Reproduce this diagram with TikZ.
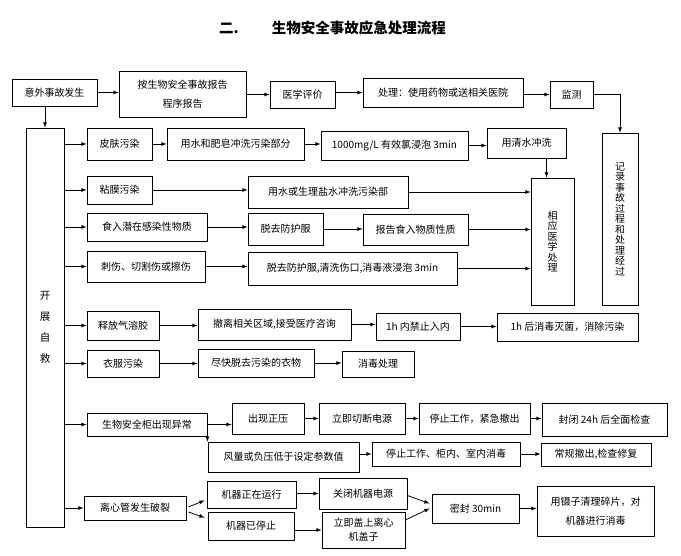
\documentclass[tikz,border=0pt]{standalone}
\usepackage{fontspec}
\setmainfont{Noto Sans CJK SC}
\usepackage{tikz}
\usetikzlibrary{arrows,calc}

\begin{document}
\begin{tikzpicture}[x=1pt, y=-1pt,
  box/.style={draw, line width=0.8pt, inner sep=1pt, align=center, font=\fontsize{10}{12}\selectfont},
  arr/.style={-latex, line width=0.8pt}]
\useasboundingbox (0,0) rectangle (681,556);
% Title
\node[anchor=west, inner sep=0pt, font=\fontsize{14.5}{16}\selectfont\bfseries] (title) at (219,28) {二.\hspace{33pt}生物安全事故应急处理流程};

% Report chain
\node[box, minimum width=85pt, minimum height=27pt] (acc) at (54.5,92.5) {意外事故发生};
\node[box, minimum width=127pt, minimum height=46pt, font=\fontsize{10}{19}\selectfont] (rep) at (182.5,94) {按生物安全事故报告\\程序报告};
\node[box, minimum width=65pt, minimum height=27pt] (eval) at (302.5,94.5) {医学评价};
\node[box, minimum width=160pt, minimum height=29pt] (treat) at (443,92.5) {处理：使用药物或送相关医院};
\node[box, minimum width=43pt, minimum height=27pt] (mon) at (571.5,94.5) {监测};
\node[box, minimum width=36pt, minimum height=172pt, font=\fontsize{10}{10.5}\selectfont] (rec) at (620,219) {记\\录\\事\\故\\过\\程\\和\\处\\理\\经\\过};
\draw[arr] (acc.east) -- (acc.east -| rep.west);
\draw[arr] (rep.east |- eval.west) -- (eval.west);
\draw[arr] (eval.east |- treat.west) -- (treat.west);
\draw[arr] (treat.east |- mon.west) -- (mon.west);
\draw[arr] (mon.east) -| (rec.north);

% Self rescue
\node[box, minimum width=38pt, minimum height=399pt, font=\fontsize{10.5}{21}\selectfont] (self) at (45,327.5) {开\\展\\自\\救};
\draw[arr] (self.north |- acc.south) -- (self.north);

% Contamination of skin and mucosa
\node[box, minimum width=65pt, minimum height=32pt] (skin) at (119.5,144) {皮肤污染};
\node[box, minimum width=137pt, minimum height=32pt] (soap) at (235.5,144) {用水和肥皂冲洗污染部分};
\node[box, minimum width=147pt, minimum height=29pt] (chl) at (394.5,145.5) {1000mg/L 有效氯浸泡 3min};
\node[box, minimum width=79pt, minimum height=30pt] (rinse) at (526.5,143) {用清水冲洗};
\node[box, minimum width=43pt, minimum height=127pt, font=\fontsize{10}{10.5}\selectfont] (med) at (552.5,241.5) {相\\应\\医\\学\\处\\理};
\node[box, minimum width=65pt, minimum height=28pt] (muc) at (119.5,190) {粘膜污染};
\node[box, minimum width=160pt, minimum height=32pt] (wash) at (328,192) {用水或生理盐水冲洗污染部};
\draw[arr] (self.east |- skin.west) -- (skin.west);
\draw[arr] (skin.east) -- (skin.east -| soap.west);
\draw[arr] (soap.east) -- (soap.east -| chl.west);
\draw[arr] (chl.east) -- (chl.east -| rinse.west);
\draw[arr] ([xshift=20pt]rinse.south) -- ([xshift=20pt]rinse.south |- med.north);
\draw[arr] (self.east |- muc.west) -- (muc.west);
\draw[arr] (muc.east) -- (muc.east -| wash.west);
\draw[arr] (wash.east) -- (wash.east -| med.west);

% Ingestion and wounds
\node[box, minimum width=120pt, minimum height=28pt] (ing) at (147,227) {食入潜在感染性物质};
\node[box, minimum width=75pt, minimum height=32pt] (doff) at (285.5,229) {脱去防护服};
\node[box, minimum width=105pt, minimum height=31pt] (repi) at (415.5,229.5) {报告食入物质性质};
\node[box, minimum width=118pt, minimum height=31pt] (cut) at (146,266.5) {刺伤、切割伤或擦伤};
\node[box, minimum width=209pt, minimum height=33pt] (clean) at (352.5,268.5) {脱去防护服,清洗伤口,消毒液浸泡 3min};
\draw[arr] (self.east |- ing.west) -- (ing.west);
\draw[arr] (ing.east) -- (ing.east -| doff.west);
\draw[arr] (doff.east) -- (doff.east -| repi.west);
\draw[arr] (repi.east) -- (repi.east -| med.west);
\draw[arr] (self.east |- cut.west) -- (cut.west);
\draw[arr] (cut.east) -- (cut.east -| clean.west);
\draw[arr] (clean.east) -- (clean.east -| med.west);

% Aerosol and clothing
\node[box, minimum width=72pt, minimum height=29pt] (aer) at (123,325.5) {释放气溶胶};
\node[box, minimum width=153pt, minimum height=31pt] (evac) at (274.5,324.5) {撤离相关区域,接受医疗咨询};
\node[box, minimum width=84pt, minimum height=27pt] (ban) at (418,326.5) {1h 内禁止入内};
\node[box, minimum width=141pt, minimum height=28pt] (ster) at (567.5,327) {1h 后消毒灭菌，消除污染};
\node[box, minimum width=72pt, minimum height=27pt] (clo) at (123,363.5) {衣服污染};
\node[box, minimum width=116pt, minimum height=28pt] (strip) at (256,363) {尽快脱去污染的衣物};
\node[box, minimum width=72pt, minimum height=26pt] (dis) at (378,364) {消毒处理};
\draw[arr] (self.east |- aer.west) -- (aer.west);
\draw[arr] (aer.east) -- (aer.east -| evac.west);
\draw[arr] (evac.east) -- (evac.east -| ban.west);
\draw[arr] (ban.east) -- (ban.east -| ster.west);
\draw[arr] (self.east |- clo.west) -- (clo.west);
\draw[arr] (clo.east) -- (clo.east -| strip.west);
\draw[arr] (strip.east) -- (strip.east -| dis.west);

% Biosafety cabinet
\node[box, minimum width=120pt, minimum height=23pt] (abn) at (147,424.5) {生物安全柜出现异常};
\node[box, minimum width=72pt, minimum height=31pt] (pos) at (268,418.5) {出现正压};
\node[box, minimum width=86pt, minimum height=31pt] (cutp) at (362,418.5) {立即切断电源};
\node[box, minimum width=111pt, minimum height=31pt] (stop) at (474.5,418.5) {停止工作，紧急撤出};
\node[box, minimum width=125pt, minimum height=33pt] (seal24) at (604.5,419.5) {封闭 24h 后全面检查};
\node[box, minimum width=151pt, minimum height=30pt] (low) at (283.5,457) {风量或负压低于设定参数值};
\node[box, minimum width=148pt, minimum height=24pt] (stop2) at (446,454) {停止工作、柜内、室内消毒};
\node[box, minimum width=110pt, minimum height=23pt] (rout) at (596,454.5) {常规撤出,检查修复};
\draw[arr] (self.east |- abn.west) -- (abn.west);
\draw[arr] (abn.east) -- (abn.east -| pos.west);
\draw[arr] (pos.east |- cutp.west) -- (cutp.west);
\draw[arr] (cutp.east) -- (cutp.east -| stop.west);
\draw[arr] (stop.east) -- (stop.east -| seal24.west);
\draw[arr] (abn.east) -- (abn.east |- low.north);
\draw[arr] (low.east |- stop2.west) -- (stop2.west);
\draw[arr] (stop2.east) -- (stop2.east -| rout.west);

% Centrifuge tube
\node[box, minimum width=102pt, minimum height=24pt] (tube) at (135,508) {离心管发生破裂};
\node[box, minimum width=89pt, minimum height=27pt] (run) at (251.5,494.5) {机器正在运行};
\node[box, minimum width=86pt, minimum height=28pt] (halt) at (251,526) {机器已停止};
\node[box, minimum width=88pt, minimum height=31pt] (off) at (363,493.5) {关闭机器电源};
\node[box, minimum width=83pt, minimum height=36pt, font=\fontsize{10}{14}\selectfont] (lid) at (363.5,530) {立即盖上离心\\机盖子};
\node[box, minimum width=87pt, minimum height=29pt] (seal30) at (475.5,508.5) {密封 30min};
\node[box, minimum width=117pt, minimum height=50pt, font=\fontsize{10}{19}\selectfont] (tweez) at (595.5,511) {用镊子清理碎片，对\\机器进行消毒};
\draw[arr] (self.east |- tube.west) -- (tube.west);
\draw[arr] ([xshift=2pt,yshift=1pt]tube.east) -- ([xshift=-2pt,yshift=8pt]run.south west);
\draw[arr] ([xshift=2pt,yshift=-4pt]tube.east) -- ([xshift=-3pt,yshift=-6pt]halt.north west);
\draw[arr] (run.east |- off.west) -- (off.west);
\draw[arr] (halt.east |- lid.west) -- (lid.west);
\draw[arr] ([yshift=-2pt]off.east) -- ([xshift=-2pt,yshift=5pt]seal30.west);
\draw[arr] ([yshift=10pt]lid.east) -- ([xshift=-2pt]seal30.west);
\draw[arr] (seal30.east) -- (seal30.east -| tweez.west);
\end{tikzpicture}
\end{document}
